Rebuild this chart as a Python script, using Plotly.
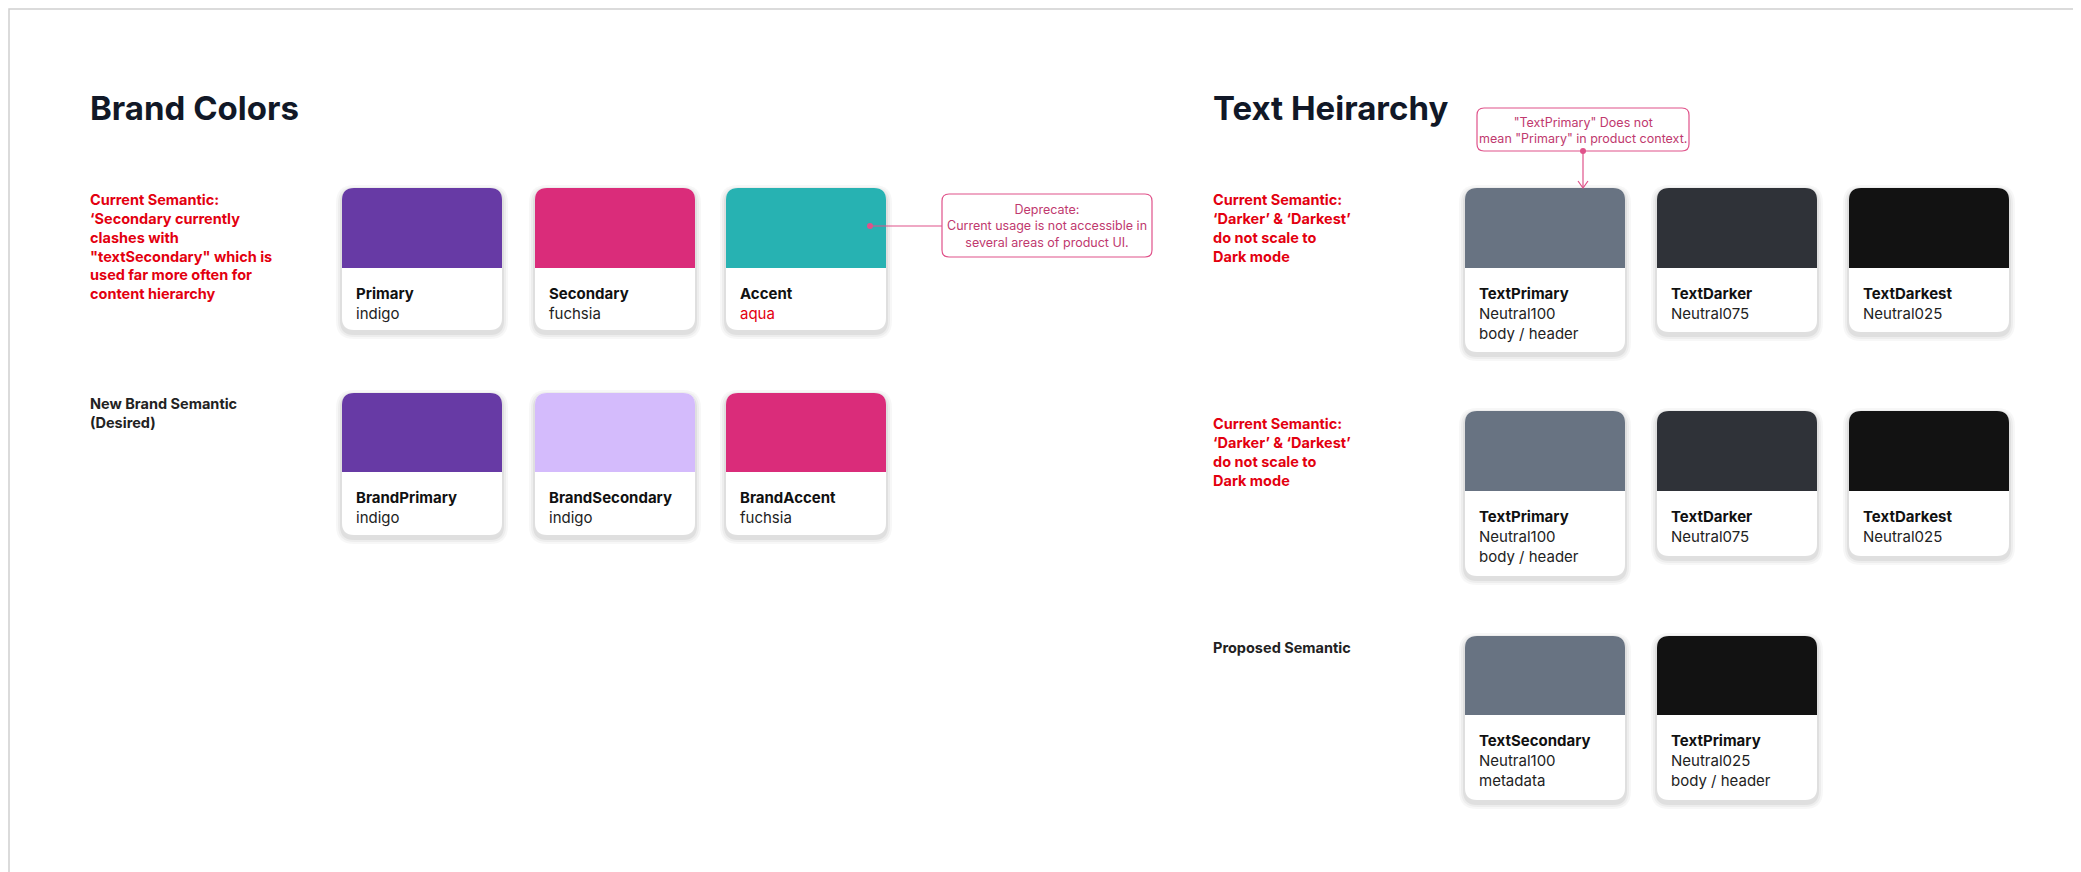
import plotly.graph_objects as go

W, H = 2081, 872
# ---- data ----
brand_names_cur = ["Primary", "Secondary", "Accent"]
brand_subs_cur = ["indigo", "fuchsia", "aqua"]
brand_cols_cur = ["#673AA5", "#DA2C7A", "#27B2B2"]
brand_names_new = ["BrandPrimary", "BrandSecondary", "BrandAccent"]
brand_subs_new = ["indigo", "indigo", "fuchsia"]
brand_cols_new = ["#673AA5", "#D4BBFC", "#DA2C7A"]
text_names = ["TextPrimary", "TextDarker", "TextDarkest"]
text_subs = ["Neutral100<br>body / header", "Neutral075", "Neutral025"]
text_cols = ["#687382", "#2F3238", "#121212"]
prop_names = ["TextSecondary", "TextPrimary"]
prop_subs = ["Neutral100<br>metadata", "Neutral025<br>body / header"]
prop_cols = ["#687382", "#121212"]

RED = "#E3000F"
DARK = "#111827"
PINK = "#E0528A"
fig = go.Figure()
shapes, ann = [], []

def rr(x0, y0, x1, y1, r, top_only=False):
    if top_only:
        return (f"M{x0},{y1} L{x0},{y0+r} Q{x0},{y0} {x0+r},{y0} L{x1-r},{y0} "
                f"Q{x1},{y0} {x1},{y0+r} L{x1},{y1} Z")
    return (f"M{x0+r},{y0} L{x1-r},{y0} Q{x1},{y0} {x1},{y0+r} L{x1},{y1-r} Q{x1},{y1} {x1-r},{y1} "
            f"L{x0+r},{y1} Q{x0},{y1} {x0},{y1-r} L{x0},{y0+r} Q{x0},{y0} {x0+r},{y0} Z")

def card(x0, top, cbot, bot, col, name, sub, subcol="#222"):
    x1 = x0 + 160
    for k, a in [(6, 0.03), (4, 0.04), (2, 0.06)]:
        shapes.append(dict(type="path", path=rr(x0-k, top-k+3, x1+k, bot+k+3, 12+k),
                           fillcolor=f"rgba(0,0,0,{a})", line=dict(width=0), layer="below"))
    shapes.append(dict(type="path", path=rr(x0, top, x1, bot, 12), fillcolor="white",
                       line=dict(width=0)))
    shapes.append(dict(type="path", path=rr(x0, top, x1, cbot, 12, True), fillcolor=col,
                       line=dict(width=0)))
    ann.append(dict(x=x0+12, y=cbot+14, text=f"<b>{name}</b>", xanchor="left", yanchor="top",
                    showarrow=False, font=dict(size=15, color="#111")))
    ann.append(dict(x=x0+12, y=cbot+34, text=sub, xanchor="left", yanchor="top",
                    showarrow=False, align="left", font=dict(size=15, color=subcol)))

bx = [334, 527, 718]
for i in range(3):
    card(bx[i], 180, 260, 322, brand_cols_cur[i], brand_names_cur[i], brand_subs_cur[i],
         RED if i == 2 else "#222")
    card(bx[i], 385, 464, 527, brand_cols_new[i], brand_names_new[i], brand_subs_new[i])
tx = [1457, 1649, 1841]
rows = [(180, 260, 344), (403, 483, 568)]
for (t, c, b) in rows:
    for i in range(3):
        bb = b if i == 0 else b - 20
        card(tx[i], t, c, bb, text_cols[i], text_names[i], text_subs[i])
for i in range(2):
    card(tx[i], 628, 707, 792, prop_cols[i], prop_names[i], prop_subs[i])

def lab(x, y, text, color):
    ann.append(dict(x=x, y=y, text=text, xanchor="left", yanchor="top", showarrow=False,
                    align="left", font=dict(size=14.5, color=color)))

ann.append(dict(x=80, y=100, text="<b>Brand Colors</b>", xanchor="left", yanchor="middle",
                showarrow=False, font=dict(size=33, color=DARK)))
ann.append(dict(x=1203, y=100, text="<b>Text Heirarchy</b>", xanchor="left", yanchor="middle",
                showarrow=False, font=dict(size=33, color=DARK)))
lab(80, 181, "<b>Current Semantic:<br>‘Secondary currently<br>clashes with<br>\"textSecondary\" which is<br>used far more often for<br>content hierarchy</b>", RED)
lab(80, 385, "<b>New Brand Semantic<br>(Desired)</b>", "#222")
lab(1203, 181, "<b>Current Semantic:<br>‘Darker’ & ‘Darkest’<br>do not scale to<br>Dark mode</b>", RED)
lab(1203, 405, "<b>Current Semantic:<br>‘Darker’ & ‘Darkest’<br>do not scale to<br>Dark mode</b>", RED)
lab(1203, 629, "<b>Proposed Semantic</b>", "#222")

# callouts
shapes.append(dict(type="path", path=rr(934, 186, 1144, 249, 7), fillcolor="white",
                   line=dict(color=PINK, width=1.2)))
ann.append(dict(x=1039, y=218, text="Deprecate:<br>Current usage is not accessible in<br>several areas of product UI.",
                showarrow=False, font=dict(size=12.5, color="#C0396E")))
shapes.append(dict(type="line", x0=862, y0=218, x1=934, y1=218, line=dict(color=PINK, width=1.2)))
shapes.append(dict(type="circle", x0=859, y0=215, x1=865, y1=221, fillcolor=PINK, line=dict(width=0)))
shapes.append(dict(type="path", path=rr(1469, 100, 1681, 143, 7), fillcolor="white",
                   line=dict(color=PINK, width=1.2)))
ann.append(dict(x=1575, y=122, text="\"TextPrimary\" Does not<br>mean \"Primary\" in product context.",
                showarrow=False, font=dict(size=12.5, color="#C0396E")))
shapes.append(dict(type="line", x0=1575, y0=143, x1=1575, y1=179, line=dict(color=PINK, width=1.2)))
shapes.append(dict(type="circle", x0=1572, y0=140, x1=1578, y1=146, fillcolor=PINK, line=dict(width=0)))
shapes.append(dict(type="path", path="M1570,173 L1575,180 L1580,173", line=dict(color=PINK, width=1.2)))
# frame
shapes.append(dict(type="rect", x0=1, y0=1, x1=W-1, y1=H-1, line=dict(color="#D0D0D0", width=1.5)))

fig.update_layout(width=W, height=H, margin=dict(l=0, r=0, t=0, b=0),
                  paper_bgcolor="white", plot_bgcolor="white",
                  font=dict(family="Inter, Roboto, sans-serif"),
                  xaxis=dict(range=[0, W], visible=False, fixedrange=True),
                  yaxis=dict(range=[H, 0], visible=False, fixedrange=True),
                  shapes=shapes, annotations=ann, showlegend=False)
fig.write_html("out.html", config={"displayModeBar": False})
